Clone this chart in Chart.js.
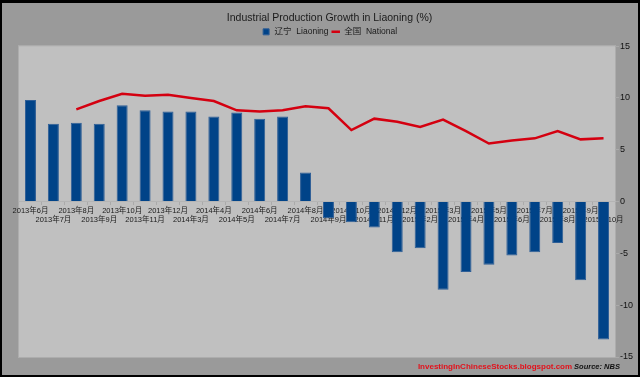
<!DOCTYPE html>
<html>
<head>
<meta charset="utf-8">
<script src="https://cdn.jsdelivr.net/npm/chart.js@4/dist/chart.umd.min.js"></script>
<style>
  html, body { margin: 0; padding: 0; background: #000; }
  #wrap { width: 640px; height: 377px; }
</style>
</head>
<body>
<div id="wrap"><canvas id="ipChart" width="640" height="377"></canvas></div>
<script>
// months shown on the x axis
const months = ['2013年6月', '2013年7月', '2013年8月', '2013年9月', '2013年10月', '2013年11月', '2013年12月',
  '2014年3月', '2014年4月', '2014年5月', '2014年6月', '2014年7月', '2014年8月', '2014年9月', '2014年10月',
  '2014年11月', '2014年12月', '2015年2月', '2015年3月', '2015年4月', '2015年5月', '2015年6月', '2015年7月',
  '2015年8月', '2015年9月', '2015年10月'];

// 辽宁 Liaoning, growth %
const liaoning = [9.8, 7.5, 7.6, 7.5, 9.3, 8.8, 8.7, 8.7, 8.2, 8.6, 8.0, 8.2, 2.8, -1.6, -2.0, -2.5, -4.9,
  -4.5, -8.5, -6.8, -6.1, -5.2, -4.9, -4.0, -7.6, -13.3];

// 全国 National, growth %
const national = [null, null, 8.9, 9.7, 10.4, 10.2, 10.3, 10.0, 9.7, 8.8, 8.7, 8.8, 9.2, 9.0, 6.9, 8.0,
  7.7, 7.2, 7.9, 6.8, 5.6, 5.9, 6.1, 6.8, 6.0, 6.1];

const yTicks = [-15, -10, -5, 0, 5, 10, 15];

const FONT = "'Liberation Sans', Arial, 'Noto Sans CJK SC', sans-serif";

// frame, outer gray and plot area background
const backdrop = {
  id: 'backdrop',
  beforeDraw(chart) {
    const { ctx, width, height, chartArea: a } = chart;
    ctx.save();
    ctx.fillStyle = '#000';
    ctx.fillRect(0, 0, width, height);
    ctx.fillStyle = '#9a9a9a';
    ctx.fillRect(2, 3, width - 4, height - 5);
    ctx.fillStyle = '#c0c0c0';
    ctx.fillRect(a.left, a.top, a.right - a.left, a.bottom - a.top);
    ctx.strokeStyle = '#adadad';
    ctx.lineWidth = 1;
    ctx.strokeRect(a.left - 0.5, a.top - 0.5, a.right - a.left + 1, a.bottom - a.top + 1);
    ctx.restore();
  },
  afterDraw(chart) {
    const ctx = chart.ctx;
    ctx.save();
    ctx.textBaseline = 'middle';
    ctx.textAlign = 'center';
    ctx.fillStyle = '#e3111b';
    ctx.font = 'bold 8px ' + FONT;
    ctx.fillText('InvestingInChineseStocks.blogspot.com', 495, 367);
    ctx.fillStyle = '#111';
    ctx.font = 'italic bold 7.5px ' + FONT;
    ctx.fillText('Source: NBS', 597, 367);
    ctx.restore();
  }
};

new Chart(document.getElementById('ipChart'), {
  type: 'bar',
  data: {
    labels: months,
    datasets: [
      {
        label: '辽宁  Liaoning',
        data: liaoning,
        backgroundColor: '#004388',
        borderColor: '#2e5e96',
        borderWidth: 1,
        pointStyle: 'rect',
        barPercentage: 0.48,
        categoryPercentage: 1
      },
      {
        type: 'line',
        label: '全国  National',
        data: national,
        borderColor: '#d40010',
        backgroundColor: '#d40010',
        borderWidth: 2.5,
        pointRadius: 0,
        pointStyle: 'line',
        tension: 0,
        spanGaps: false
      }
    ]
  },
  options: {
    responsive: false,
    animation: false,
    layout: { padding: { left: 19, right: 0, top: 0, bottom: 20 } },
    plugins: {
      title: {
        display: true,
        text: 'Industrial Production Growth in Liaoning (%)',
        color: '#1a1a1a',
        font: { family: FONT, size: 10.5, weight: 'normal' },
        padding: { top: 12, bottom: 0 }
      },
      legend: {
        display: true,
        labels: {
          color: '#1a1a1a',
          font: { family: FONT, size: 8.5 },
          usePointStyle: true,
          boxHeight: 6,
          boxWidth: 9,
          padding: 3
        }
      },
      tooltip: { enabled: false }
    },
    scales: {
      x: {
        position: { y: 0 },
        z: 1,
        afterFit(scale) { scale.height = 0; },
        grid: { drawOnChartArea: false, drawTicks: true, tickLength: 3, color: '#aaaaaa' },
        border: { display: true, color: '#b4b4b4' },
        ticks: {
          autoSkip: false,
          maxRotation: 0,
          minRotation: 0,
          padding: 2,
          color: '#1a1a1a',
          font: { family: FONT, size: 7.5 },
          callback(val, i) {
            const t = months[i];
            return i % 2 === 0 ? t : ['', t];
          }
        }
      },
      y: {
        position: 'right',
        min: -15,
        max: 15,
        afterFit(scale) { scale.width = 25; },
        afterBuildTicks(scale) { scale.ticks = yTicks.map(v => ({ value: v })); },
        grid: { drawOnChartArea: false, drawTicks: true, tickLength: 4, color: '#aaaaaa' },
        border: { display: false },
        ticks: {
          padding: 1,
          color: '#111',
          font: { family: FONT, size: 9 }
        }
      }
    }
  },
  plugins: [backdrop]
});
</script>
</body>
</html>
